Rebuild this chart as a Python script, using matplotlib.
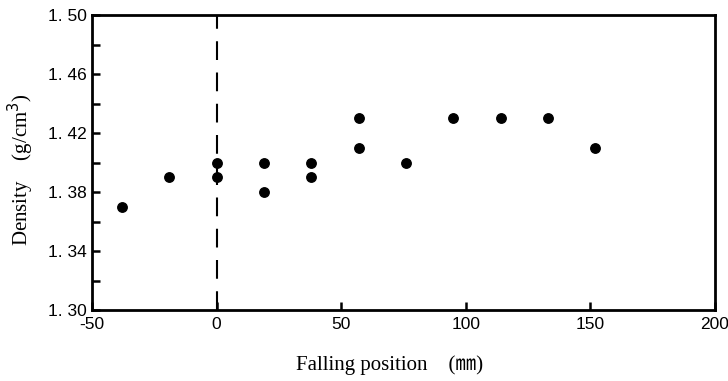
import matplotlib
matplotlib.use("Agg")
import matplotlib.pyplot as plt
from matplotlib.ticker import MultipleLocator

plt.rcParams['axes.unicode_minus'] = False

x_pos = [-38, -19, 0, 0, 19, 19, 38, 38, 57, 57, 76, 95, 114, 133, 152]
density = [1.37, 1.39, 1.40, 1.39, 1.40, 1.38, 1.40, 1.39, 1.43, 1.41, 1.40, 1.43, 1.43, 1.43, 1.41]
y_ticks = [1.30, 1.34, 1.38, 1.42, 1.46, 1.50]
y_tick_labels = ["1. 30", "1. 34", "1. 38", "1. 42", "1. 46", "1. 50"]
x_ticks = [-50, 0, 50, 100, 150, 200]

fig = plt.figure(figsize=(7.28, 3.81), dpi=100)
ax = fig.add_axes([92/728, 1-310/381, (715-92)/728, (310-15)/381])

ax.plot(x_pos, density, 'o', color='black', markersize=6.8, linestyle='none', zorder=3)
ax.axvline(0, color='black', linewidth=1.5, dashes=(9, 6))

ax.set_xlim(-50, 200)
ax.set_ylim(1.30, 1.50)
ax.set_xticks(x_ticks)
ax.set_yticks(y_ticks)
ax.set_yticklabels(y_tick_labels)
ax.yaxis.set_minor_locator(MultipleLocator(0.02))

tick_font = ['Liberation Sans Narrow', 'Liberation Sans', 'DejaVu Sans']
for lab in ax.get_xticklabels() + ax.get_yticklabels():
    lab.set_family(tick_font)
    lab.set_fontsize(12.5)

ax.tick_params(which='both', direction='in', width=1.8, length=6)
ax.tick_params(axis='y', pad=4)
ax.tick_params(axis='x', pad=5)
for s in ax.spines.values():
    s.set_linewidth(2)

label_font = ['Liberation Serif', 'Noto Sans CJK JP', 'DejaVu Sans']
ax.set_xlabel("Falling position    (㎜)", family=label_font, fontsize=15)
ax.set_ylabel("Density    (g/cm$^3$)", family=label_font, fontsize=15)
ax.xaxis.set_label_coords(0.477, -0.155)
ax.yaxis.set_label_coords(-0.09, 0.475)

fig.savefig("out.png", dpi=100)
